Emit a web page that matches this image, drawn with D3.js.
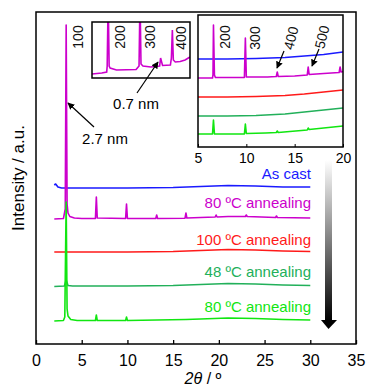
<!DOCTYPE html>
<html>
<head>
<meta charset="utf-8">
<script src="https://cdn.jsdelivr.net/npm/d3@7"></script>
<style>
  body { margin: 0; background: #fff; }
  svg { display: block; font-family: Arial, "Liberation Sans", sans-serif; }
</style>
</head>
<body>
<div id="chart"></div>
<script>
// main pattern, [2theta, intensity a.u.]
const asCast = [[2,159],[2.15,160],[2.4,157],[2.8,156],[5,156],[10,156],[15,156.5],[18,157.5],[21,158.5],[24,158],[27,157],[30,157]];
const ann80a = [[2,125],[3.0,125.5],[3.2,135],[3.3,319],[3.4,140],[3.5,131],[3.7,127.5],[4.2,126],[5,125.5],[6.5,125.5],[6.6,147],[6.7,126],[9.8,125.5],[9.9,140],[10,125.5],[13.1,125.5],[13.2,129],[13.3,125.5],[16.3,125.8],[16.4,131],[16.5,126],[18,126.5],[19.6,127],[19.7,129],[19.8,127],[21,127.5],[22.9,127.5],[23,129],[23.1,127.5],[26.2,126.5],[26.3,128],[26.4,126.5],[30,126]];
const ann100 = [[2,92],[10,92],[15,92.5],[18,93.5],[21,94.5],[24,94],[27,93],[30,92.5]];
const ann48 = [[2,57.5],[3.1,58],[3.3,64],[3.5,58.5],[4,58],[10,58],[15,58.5],[18,59.5],[21,60.5],[24,60],[27,59],[30,58.5]];
const ann80b = [[2,23],[3.0,23.5],[3.15,27],[3.3,142],[3.4,35],[3.5,28],[3.8,24.5],[4.5,23.5],[6.5,23.5],[6.6,29],[6.7,23.5],[9.8,23.5],[9.9,27],[10,23.5],[13.2,24],[16.4,24.5],[18,25],[21,26],[24,25.5],[27,24.5],[30,24]];

// left inset (80 ºC annealing, zoomed)
const inset1Trace = [[5,4],[6,5],[6.5,6],[6.55,12],[6.65,80],[6.75,12],[6.85,10],[7.5,8],[9.5,8.5],[9.8,12],[9.9,80],[10.0,14],[10.2,12],[11,11],[11.9,12],[12.0,20],[12.2,12.5],[13.0,13],[13.1,20],[13.2,48],[13.3,18],[13.5,16],[14,16.5],[14.5,18],[15,21]];

// right inset, 5-20 degrees
const in2AsCast = [[5,88],[8,88],[11,88.5],[14,89.5],[16,91],[18,92.5],[20,95]];
const in2Ann80a = [[5,69],[6.5,69],[6.55,72],[6.6,122],[6.7,72],[6.8,69.5],[9.8,69.5],[9.9,109],[10.0,70],[12.2,70],[13.1,70.5],[13.2,75],[13.3,70.5],[15,71],[16.3,72],[16.4,80],[16.5,72.5],[18,73.5],[19.6,74.5],[19.7,80],[19.8,75],[20,75.5]];
const in2Ann100 = [[5,50],[8,50],[11,50.5],[14,51.5],[16,53],[18,55],[20,57]];
const in2Ann48 = [[5,31],[8,31],[11,31.5],[14,33],[16,35],[18,37],[20,39]];
const in2Ann80b = [[5,13],[6.5,13],[6.6,27],[6.7,13],[9.8,13],[9.9,23],[10,13.5],[12,14],[13.1,14.5],[13.2,16],[13.3,14.5],[16.3,17],[16.4,19],[16.5,17.5],[18,19],[20,21]];

const seriesNames = ["As cast", "80 ºC annealing", "100 ºC annealing", "48 ºC annealing", "80 ºC annealing"];
const colors = ["#1a1aff", "#cc00cc", "#ff1a1a", "#22b05a", "#11e611"];
const mainTicks = [0, 5, 10, 15, 20, 25, 30, 35];
const insetTicks = [5, 10, 15, 20];

const W = 367, H = 388;
const svg = d3.select("#chart").append("svg").attr("width", W).attr("height", H);

const defs = svg.append("defs");
defs.append("marker").attr("id", "ah").attr("viewBox", "0 0 10 10")
  .attr("refX", 9).attr("refY", 5).attr("markerWidth", 7).attr("markerHeight", 7)
  .attr("markerUnits", "userSpaceOnUse").attr("orient", "auto")
  .append("path").attr("d", "M0,0L10,5L0,10z").attr("fill", "#000");
const grad = defs.append("linearGradient").attr("id", "fade").attr("x1", 0).attr("y1", 0).attr("x2", 0).attr("y2", 1);
grad.append("stop").attr("offset", "0%").attr("stop-color", "#fff");
grad.append("stop").attr("offset", "100%").attr("stop-color", "#000");

// main plot
const x = d3.scaleLinear().domain([0, 35]).range([36, 356]);
const y = d3.scaleLinear().domain([0, 332]).range([344, 12]);
const line = d3.line().x(d => x(d[0])).y(d => y(d[1]));

[asCast, ann80a, ann100, ann48, ann80b].forEach((s, i) => {
  svg.append("path").datum(s).attr("d", line).attr("fill", "none")
    .attr("stroke", colors[i]).attr("stroke-width", 1.6).attr("stroke-linejoin", "round");
});

const labelY = [179, 207.5, 244.5, 277, 311.5];
seriesNames.forEach((n, i) => {
  svg.append("text").attr("x", 311).attr("y", labelY[i]).attr("text-anchor", "end")
    .attr("font-size", 15).attr("fill", colors[i]).text(n);
});

svg.append("g").attr("transform", "translate(0,344)")
  .call(d3.axisBottom(x).tickValues(mainTicks).tickSizeInner(-4).tickSizeOuter(0).tickPadding(11))
  .call(g => g.select(".domain").remove())
  .call(g => g.selectAll("text").attr("font-size", 16).attr("font-family", null))
  .call(g => g.selectAll("line").attr("stroke-width", 1.3));

svg.append("rect").attr("x", 36).attr("y", 12).attr("width", 320).attr("height", 332)
  .attr("fill", "none").attr("stroke", "#000").attr("stroke-width", 1.5);

// gradient arrow
svg.append("rect").attr("x", 325).attr("y", 160).attr("width", 7).attr("height", 161).attr("fill", "url(#fade)");
svg.append("path").attr("d", "M321,320L337,320L328.5,329Z").attr("fill", "#000");

// left inset
const x1 = d3.scaleLinear().domain([5, 15]).range([92, 190]);
const y1 = d3.scaleLinear().domain([0, 56]).range([78, 22]);
defs.append("clipPath").attr("id", "c1").append("rect").attr("x", 92).attr("y", 22).attr("width", 98).attr("height", 56);
svg.append("rect").attr("x", 92).attr("y", 22).attr("width", 98).attr("height", 56).attr("fill", "#fff");
svg.append("path").datum(inset1Trace).attr("clip-path", "url(#c1)")
  .attr("d", d3.line().x(d => x1(d[0])).y(d => y1(d[1])))
  .attr("fill", "none").attr("stroke", colors[1]).attr("stroke-width", 1.6);
svg.append("rect").attr("x", 92).attr("y", 22).attr("width", 98).attr("height", 56)
  .attr("fill", "none").attr("stroke", "#000").attr("stroke-width", 1.5);

// right inset
const x2 = d3.scaleLinear().domain([5, 20]).range([198, 343]);
const y2 = d3.scaleLinear().domain([0, 132]).range([147, 15]);
defs.append("clipPath").attr("id", "c2").append("rect").attr("x", 198).attr("y", 15).attr("width", 145).attr("height", 132);
svg.append("rect").attr("x", 198).attr("y", 15).attr("width", 145).attr("height", 132).attr("fill", "#fff");
const line2 = d3.line().x(d => x2(d[0])).y(d => y2(d[1]));
[in2AsCast, in2Ann80a, in2Ann100, in2Ann48, in2Ann80b].forEach((s, i) => {
  svg.append("path").datum(s).attr("clip-path", "url(#c2)").attr("d", line2).attr("fill", "none")
    .attr("stroke", colors[i]).attr("stroke-width", 1.6).attr("stroke-linejoin", "round");
});
svg.append("g").attr("transform", "translate(0,147)")
  .call(d3.axisBottom(x2).tickValues(insetTicks).tickSizeInner(-3).tickSizeOuter(0).tickPadding(6))
  .call(g => g.select(".domain").remove())
  .call(g => g.selectAll("text").attr("font-size", 14).attr("font-family", null));
svg.append("rect").attr("x", 198).attr("y", 15).attr("width", 145).attr("height", 132)
  .attr("fill", "none").attr("stroke", "#000").attr("stroke-width", 1.5);

// peak labels
function rotLabel(t, cx, cy, ang, size) {
  svg.append("text").attr("transform", `translate(${cx},${cy}) rotate(${ang})`)
    .attr("text-anchor", "middle").attr("dy", "0.35em").attr("font-size", size).attr("fill", "#111").text(t);
}
rotLabel("100", 78, 37, -90, 14);
rotLabel("200", 120, 37, -90, 14);
rotLabel("300", 150, 37, -90, 14);
rotLabel("400", 181, 38, -90, 14);
rotLabel("200", 225, 37, -90, 14);
rotLabel("300", 255, 38, -90, 14);
rotLabel("400", 291, 38, -76, 14);
rotLabel("500", 322, 37, -76, 14);

function arrow(x0, y0, xa, ya) {
  svg.append("line").attr("x1", x0).attr("y1", y0).attr("x2", xa).attr("y2", ya)
    .attr("stroke", "#000").attr("stroke-width", 1.2).attr("marker-end", "url(#ah)");
}
arrow(94, 127, 68, 103);
arrow(137, 93, 158, 62);
arrow(284, 51, 277, 68);
arrow(319, 49, 312, 66);

svg.append("text").attr("x", 105).attr("y", 143.5).attr("text-anchor", "middle").attr("font-size", 15).text("2.7 nm");
svg.append("text").attr("x", 136).attr("y", 108.5).attr("text-anchor", "middle").attr("font-size", 15).text("0.7 nm");

// axis titles
svg.append("text").attr("transform", "translate(24,178) rotate(-90)").attr("text-anchor", "middle")
  .attr("font-size", 17).text("Intensity / a.u.");
const xt = svg.append("text").attr("x", 203).attr("y", 384).attr("text-anchor", "middle").attr("font-size", 16);
xt.append("tspan").attr("font-style", "italic").text("2θ");
xt.append("tspan").text(" / º");
</script>
</body>
</html>
